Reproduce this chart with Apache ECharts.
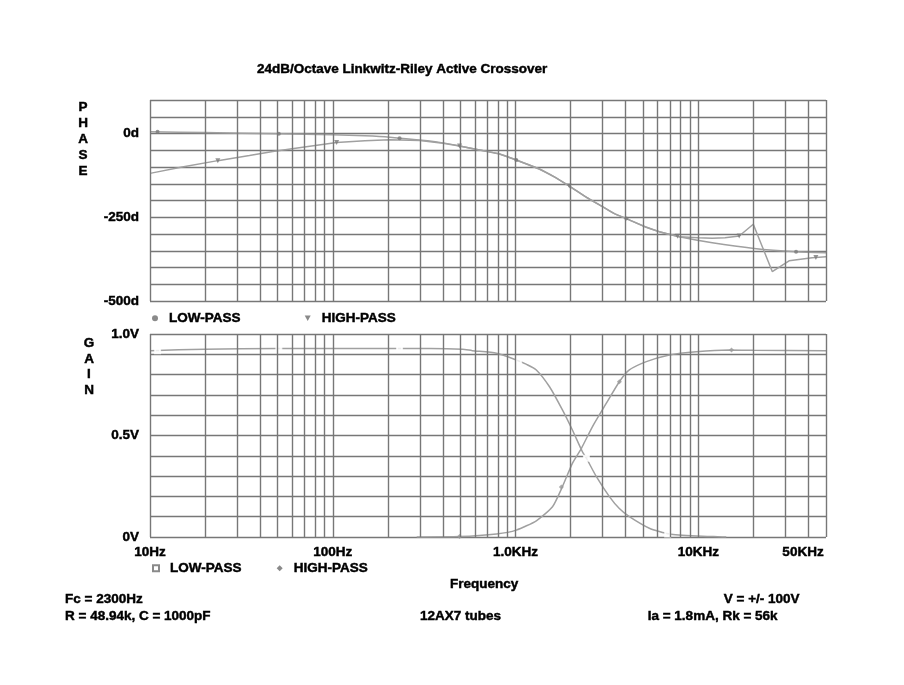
<!DOCTYPE html>
<html><head><meta charset="utf-8">
<script src="https://cdn.jsdelivr.net/npm/echarts@6/dist/echarts.min.js"></script>
<style>html,body{margin:0;padding:0;background:#fff}#c{width:904px;height:685px}</style>
</head><body><div id="c"></div>
<script>
// ---- data ----
const freqGrid = [10,20,30,40,50,60,70,80,90,100,200,300,400,500,600,700,800,900,
  1000,2000,3000,4000,5000,6000,7000,8000,9000,10000,20000,30000,40000,50000];
const freqLabels = {10:'10Hz',100:'100Hz',1000:'1.0KHz',10000:'10KHz',50000:'50KHz'};
const phaseLabels = {'0':'0d','-250':'-250d','-500':'-500d'};
const gainLabels = {'0':'0V','0.5':'0.5V','1':'1.0V'};

const phaseLow = [[10,5],[20,3],[50,-1],[100,-4],[150,-7],[205,-11],[330,-22],[400,-28],[494,-37],[635,-49],[818,-61],
  [1010,-79],[1350,-106],[1650,-131],[1970,-157],[2450,-191],[2990,-218],[3500,-240],[4040,-254],[5200,-280],
  [6120,-293],[7880,-308],[11930,-326],[20230,-343],[34300,-353],[50000,-356]];
const phaseHigh = [[10,-119],[15,-100],[23.5,-81],[35,-66],[47,-54],[70,-40],[105,-27],[150,-22],[205,-19],[300,-21],
  [400,-29],[494,-37],[635,-49],[818,-61],[1010,-79],[1350,-106],[1650,-131],[1970,-157],[2450,-191],[2990,-218],
  [3500,-240],[4040,-254],[5200,-280],[6120,-293],[7880,-308],[10000,-311],[11930,-313],[14000,-311],[16750,-306],
  [20000,-271],[25400,-412],[31400,-380],[42000,-371],[50000,-368]];
const phaseLowMarks = [[11,5],[50.7,-1],[232,-14],[1010,-79],[4040,-254],[34300,-353]];
const phaseHighMarks = [[23.5,-81],[105,-27],[494,-37],[1970,-157],[7700,-307],[16750,-306],[44000,-370]];

const gainLow = [[10,0.918],[20,0.925],[50,0.929],[230,0.929],[340,0.929],[513,0.925],[580,0.918],[787,0.905],
  [1010,0.872],[1150,0.85],[1300,0.823],[1535,0.74],[1806,0.626],[2048,0.527],[2323,0.42],[2443,0.388],[2771,0.297],
  [3264,0.199],[3700,0.14],[4198,0.10],[5400,0.043],[6945,0.015],[9750,0.005],[14230,0]];
const gainHigh = [[288,0],[494,0.002],[787,0.015],[1010,0.034],[1300,0.08],[1594,0.149],[1806,0.248],[2048,0.363],
  [2294,0.437],[2634,0.543],[3142,0.659],[3700,0.765],[4198,0.823],[5200,0.864],[6945,0.897],[9750,0.913],
  [14770,0.921],[20000,0.92],[50000,0.918]];
const gainLowMarks = [[11,0.918],[50.7,0.929],[232,0.929],[1040,0.868],[2443,0.388],[6800,0.015]];
const gainHighMarks = [[494,0.002],[1783,0.246],[3700,0.765],[15200,0.921]];

// ---- chart ----
const FONT = '"Liberation Sans", Arial, sans-serif';
const FS = 13.5;
const GRIDC = '#777777', CURVE = '#a0a0a0';
const txt = (o) => Object.assign({color:'#000', fontFamily:FONT, fontWeight:'bold', fontSize:FS,
  textBorderColor:'#000', textBorderWidth:0.45}, o||{});

function fmtMap(map, v){
  const k = String(Math.round(v*1000)/1000);
  return map[k] !== undefined ? map[k] : '';
}
const vLines = {silent:true, symbol:['none','none'], label:{show:false},
  lineStyle:{color:GRIDC, width:1.4, type:'solid'}, animation:false,
  data: freqGrid.map(f => ({xAxis:f}))};
const axisTxt = {color:'#000', fontFamily:FONT, fontWeight:'bold', fontSize:FS, textBorderColor:'#000', textBorderWidth:0.45};

const chart = echarts.init(document.getElementById('c'), null, {renderer:'canvas'});
chart.setOption({
  animation:false,
  backgroundColor:'#fff',
  title:[
    {text:'24dB/Octave Linkwitz-Riley Active Crossover', left:257, top:62, padding:0, textStyle:txt()},
    {text:'P\nH\nA\nS\nE', left:83, top:99, padding:0, textAlign:'center', textStyle:txt({lineHeight:16})},
    {text:'G\nA\nI\nN', left:89, top:336, padding:0, textAlign:'center', textStyle:txt({lineHeight:15.5})},
    {text:'Frequency', left:450, top:577, padding:0, textStyle:txt()},
    {text:'Fc = 2300Hz', left:65, top:592, padding:0, textStyle:txt()},
    {text:'R = 48.94k, C = 1000pF', left:65, top:609, padding:0, textStyle:txt()},
    {text:'12AX7 tubes', left:420, top:609, padding:0, textStyle:txt()},
    {text:'V = +/- 100V', right:104, top:592, padding:0, textStyle:txt()},
    {text:'Ia = 1.8mA, Rk = 56k', right:126, top:609, padding:0, textStyle:txt()}
  ],
  legend:[
    {left:152, top:311, padding:0, orient:'horizontal', itemWidth:6, itemHeight:6, itemGap:64,
     textStyle:txt({padding:[0,0,0,6]}), selectedMode:false,
     data:[{name:'LOW-PASS', icon:'circle'}, {name:'HIGH-PASS', icon:'path://M0,0L10,0L5,9Z'}]},
    {left:152, top:561, padding:0, orient:'horizontal', itemWidth:6, itemHeight:6, itemGap:35,
     textStyle:txt({padding:[0,0,0,6]}), selectedMode:false,
     data:[{name:'LOW-PASS', icon:'emptyRect'}, {name:'HIGH-PASS', icon:'diamond'}]}
  ],
  grid:[
    {left:150, top:100, width:676, height:201, containLabel:false},
    {left:150, top:334, width:676, height:203, containLabel:false}
  ],
  xAxis:[
    {type:'log', logBase:10, min:10, max:50000, gridIndex:0,
     axisLine:{show:false}, axisTick:{show:false}, axisLabel:{show:false}, splitLine:{show:false}},
    {type:'log', logBase:10, min:10, max:50000, gridIndex:1,
     axisLine:{show:false}, axisTick:{show:false}, splitLine:{show:false},
     axisLabel:Object.assign({show:true, margin:8, showMinLabel:true, showMaxLabel:true,
       formatter:(v)=>{ const r = Math.round(v); const s = freqLabels[r]; if(!s) return ''; return r===50000 ? '{r|'+s+'}' : s; },
       rich:{r:Object.assign({padding:[0,46,0,0]}, axisTxt)}}, axisTxt)}
  ],
  yAxis:[
    {type:'value', min:-500, max:100, interval:50, gridIndex:0,
     axisLine:{show:false}, axisTick:{show:false},
     splitLine:{show:true, lineStyle:{color:GRIDC, width:1.4}},
     axisLabel:Object.assign({margin:11, formatter:(v)=>fmtMap(phaseLabels, v)}, axisTxt)},
    {type:'value', min:0, max:1, interval:0.1, gridIndex:1,
     axisLine:{show:false}, axisTick:{show:false},
     splitLine:{show:true, lineStyle:{color:GRIDC, width:1.4}},
     axisLabel:Object.assign({margin:11, formatter:(v)=>fmtMap(gainLabels, v)}, axisTxt)}
  ],
  series:[
    {name:'LOW-PASS', type:'line', xAxisIndex:0, yAxisIndex:0, data:phaseLow, smooth:0.2, showSymbol:false,
     lineStyle:{color:CURVE, width:1.5}, itemStyle:{color:'#8a8a8a'}, markLine:vLines, z:3},
    {name:'HIGH-PASS', type:'line', xAxisIndex:0, yAxisIndex:0, data:phaseHigh, smooth:false, showSymbol:false,
     lineStyle:{color:CURVE, width:1.5}, itemStyle:{color:'#8a8a8a'}, z:3},
    {name:'lpPhaseMarks', type:'scatter', xAxisIndex:0, yAxisIndex:0, data:phaseLowMarks, symbol:'circle', symbolSize:4,
     itemStyle:{color:'#7a7a7a'}, z:4, silent:true},
    {name:'hpPhaseMarks', type:'scatter', xAxisIndex:0, yAxisIndex:0, data:phaseHighMarks, symbol:'path://M0,0L10,0L5,9Z', symbolSize:5,
     itemStyle:{color:'#7a7a7a'}, z:4, silent:true},
    {name:'LOW-PASS', type:'line', xAxisIndex:1, yAxisIndex:1, data:gainLow, smooth:0.2, showSymbol:false,
     lineStyle:{color:CURVE, width:1.5}, itemStyle:{color:'#8a8a8a'}, markLine:vLines, z:3},
    {name:'HIGH-PASS', type:'line', xAxisIndex:1, yAxisIndex:1, data:gainHigh, smooth:0.2, showSymbol:false,
     lineStyle:{color:CURVE, width:1.5}, itemStyle:{color:'#8a8a8a'}, z:3},
    {name:'lpGainMarks', type:'scatter', xAxisIndex:1, yAxisIndex:1, data:gainLowMarks, symbol:'emptyRect', symbolSize:5,
     itemStyle:{color:'#fff', borderColor:'#666', borderWidth:1.2}, z:4, silent:true},
    {name:'hpGainMarks', type:'scatter', xAxisIndex:1, yAxisIndex:1, data:gainHighMarks, symbol:'diamond', symbolSize:5,
     itemStyle:{color:'#9a9a9a'}, z:4, silent:true}
  ]
});
</script></body></html>
